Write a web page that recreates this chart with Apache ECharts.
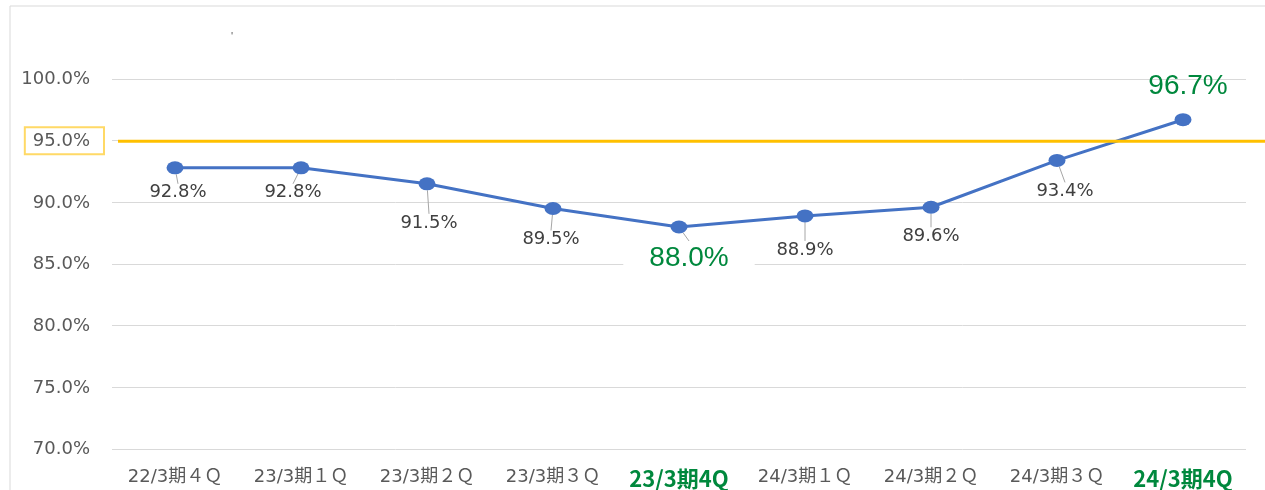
<!DOCTYPE html>
<html>
<head>
<meta charset="utf-8">
<script src="https://cdn.jsdelivr.net/npm/echarts@6/dist/echarts.min.js"></script>
<style>
  html, body { margin: 0; padding: 0; background: #fff; }
  #chart { width: 1265px; height: 490px; }
</style>
</head>
<body>
<div id="chart"></div>
<script>
// 四半期ラベル
const categories = ['22/3期４Ｑ', '23/3期１Ｑ', '23/3期２Ｑ', '23/3期３Ｑ', '23/3期4Q', '24/3期１Ｑ', '24/3期２Ｑ', '24/3期３Ｑ', '24/3期4Q'];
// 達成率(%)
const rates = [92.8, 92.8, 91.5, 89.5, 88.0, 88.9, 89.6, 93.4, 96.7];
// 目標ライン
const target = 95;
const targetSpan = [0, 1];
// 強調する四半期
const highlight = [4, 8];

const green = '#00883D';
const myChart = echarts.init(document.getElementById('chart'));

// ラベルのずらし量（点からの相対位置）
const labelShift = [[3, 25], [-8, 25], [2, 39], [-2, 31], [10, 31], [0, 34], [0, 29], [8, 31], [5, -33]];

const seriesData = rates.map((v, i) => {
    const big = highlight.includes(i);
    return {
        value: v,
        label: big ? {
            color: green,
            fontSize: 28,
            fontFamily: 'Liberation Sans',
            backgroundColor: i === 4 ? '#fff' : 'transparent',
            padding: i === 4 ? [3, 26] : 0
        } : {},
        labelLine: { show: i !== 8 }
    };
});

const option = {
    backgroundColor: '#fff',
    animation: false,
    title: {
        text: "'",
        left: 226,
        top: 26,
        textStyle: { fontSize: 11, color: '#595959', fontWeight: 'normal' }
    },
    graphic: [{
        type: 'rect',
        shape: { x: 10, y: 6, width: 1300, height: 520 },
        style: { fill: 'none', stroke: '#d9d9d9', lineWidth: 1 },
        silent: true
    }],
    grid: [
        { left: 112, right: 19, top: 79, bottom: 38 },
        { left: 118, right: 0, top: 79, bottom: 38 }
    ],
    xAxis: [{
        type: 'category',
        data: categories,
        gridIndex: 0,
        axisLine: { show: false },
        axisTick: { show: false },
        axisLabel: {
            interval: 0,
            margin: 19,
            color: '#595959',
            fontSize: 18,
            fontFamily: 'DejaVu Sans, Noto Sans CJK JP',
            formatter: (value, index) => highlight.includes(index) ? '{g|' + value + '}' : value,
            rich: {
                g: {
                    color: green,
                    fontSize: 22,
                    fontWeight: 'bold',
                    fontFamily: 'Liberation Sans Narrow, Noto Sans CJK JP'
                }
            }
        }
    }, {
        type: 'value',
        gridIndex: 1,
        min: 0,
        max: 1,
        show: false
    }],
    yAxis: [{
        type: 'value',
        gridIndex: 0,
        min: 70,
        max: 100,
        interval: 5,
        axisLine: { show: false },
        axisTick: { show: false },
        splitLine: { lineStyle: { color: '#d9d9d9', width: 1 } },
        axisLabel: {
            margin: 8,
            formatter: v => (v === target ? '{box|' : '{n|') + v.toFixed(1) + '%}',
            rich: {
                n: {
                    color: '#595959',
                    fontSize: 18,
                    fontFamily: 'DejaVu Sans',
                    padding: [5, 14, 4, 8]
                },
                box: {
                    color: '#595959',
                    fontSize: 18,
                    fontFamily: 'DejaVu Sans',
                    borderColor: '#FFD966',
                    borderWidth: 2,
                    padding: [5, 14, 4, 8]
                }
            }
        }
    }, {
        type: 'value',
        gridIndex: 1,
        min: 70,
        max: 100,
        show: false
    }],
    series: [{
        name: '達成率',
        type: 'line',
        xAxisIndex: 0,
        yAxisIndex: 0,
        data: seriesData,
        symbol: 'circle',
        symbolSize: [17, 13],
        z: 2,
        itemStyle: { color: '#4472C4' },
        lineStyle: { color: '#4472C4', width: 3 },
        label: {
            show: true,
            position: 'inside',
            color: '#404040',
            fontSize: 18,
            fontFamily: 'DejaVu Sans',
            formatter: p => p.value.toFixed(1) + '%'
        },
        labelLine: {
            show: true,
            lineStyle: { color: '#a6a6a6', width: 1 }
        },
        labelLayout: p => ({ dx: labelShift[p.dataIndex][0], dy: labelShift[p.dataIndex][1] })
    }, {
        name: '目標',
        type: 'line',
        xAxisIndex: 1,
        yAxisIndex: 1,
        data: targetSpan.map(x => [x, target]),
        symbol: 'none',
        z: 3,
        lineStyle: { color: '#FFC000', width: 3 },
        silent: true
    }]
};

myChart.setOption(option);
</script>
</body>
</html>
